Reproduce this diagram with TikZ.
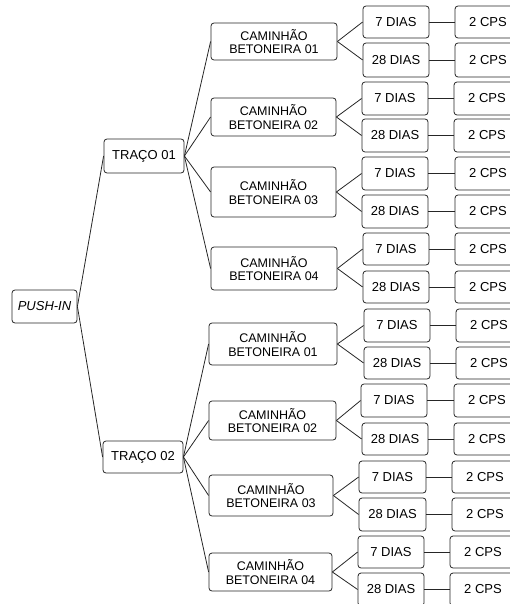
\documentclass[tikz,border=0pt]{standalone}
\usepackage{fontspec}
\setmainfont{Liberation Sans}
\tikzset{
  box/.style={draw=black!85, line width=0.8bp, rounded corners=3bp, inner sep=0pt, align=center,
    font=\fontsize{13bp}{14bp}\selectfont},
  cbox/.style={box, font=\fontsize{12.5bp}{13.5bp}\selectfont},
  link/.style={draw=black!85, line width=0.8bp}
}
% \bx[style]{name}{x1}{y1}{x2}{y2}{text}
\newcommand\bx[7][box]{\node[#1, minimum width={#5bp-#3bp}, minimum height={#6bp-#4bp}] (#2) at ({(#3+#5)/2},{(#4+#6)/2}) {#7};}
\begin{document}
\begin{tikzpicture}[x=1bp,y=-1bp]
\useasboundingbox (0,0) rectangle (510,604);
\bx{p}{12}{290}{77}{323}{\itshape PUSH-IN}
\bx{t1}{104}{139}{184}{173}{TRAÇO 01}
\bx{t2}{103}{441}{183}{473}{TRAÇO 02}
% caminhões
\bx[cbox]{c1}{211}{23}{337}{60}{CAMINHÃO\\BETONEIRA 01}
\bx[cbox]{c2}{211}{98}{336}{136}{CAMINHÃO\\BETONEIRA 02}
\bx[cbox]{c3}{211}{167}{336}{217}{CAMINHÃO\\BETONEIRA 03}
\bx[cbox]{c4}{211}{247}{337}{290}{CAMINHÃO\\BETONEIRA 04}
\bx[cbox]{c5}{209}{323}{337}{365}{CAMINHÃO\\BETONEIRA 01}
\bx[cbox]{c6}{209}{401}{336}{440}{CAMINHÃO\\BETONEIRA 02}
\bx[cbox]{c7}{209}{475}{333}{516}{CAMINHÃO\\BETONEIRA 03}
\bx[cbox]{c8}{209}{553}{332}{591}{CAMINHÃO\\BETONEIRA 04}
% dias
\bx{a1}{363}{6}{429}{38}{7 DIAS}
\bx{b1}{363}{43}{429}{77}{28 DIAS}
\bx{a2}{362}{82}{428}{115}{7 DIAS}
\bx{b2}{362}{119}{428}{152}{28 DIAS}
\bx{a3}{362}{157}{428}{190}{7 DIAS}
\bx{b3}{362}{195}{428}{228}{28 DIAS}
\bx{a4}{363}{233}{429}{265}{7 DIAS}
\bx{b4}{363}{271}{429}{303}{28 DIAS}
\bx{a5}{364}{309}{430}{342}{7 DIAS}
\bx{b5}{364}{347}{430}{379}{28 DIAS}
\bx{a6}{361}{384}{427}{417}{7 DIAS}
\bx{b6}{362}{423}{428}{455}{28 DIAS}
\bx{a7}{359}{461}{426}{493}{7 DIAS}
\bx{b7}{359}{498}{426}{531}{28 DIAS}
\bx{a8}{358}{536}{424}{568}{7 DIAS}
\bx{b8}{358}{573}{424}{606}{28 DIAS}
% CPS
\bx{ca1}{455}{6}{521}{38}{2 CPS}
\bx{cb1}{455}{43}{521}{77}{2 CPS}
\bx{ca2}{454}{82}{520}{115}{2 CPS}
\bx{cb2}{454}{119}{520}{152}{2 CPS}
\bx{ca3}{455}{157}{521}{190}{2 CPS}
\bx{cb3}{455}{195}{521}{228}{2 CPS}
\bx{ca4}{455}{233}{521}{265}{2 CPS}
\bx{cb4}{455}{271}{521}{303}{2 CPS}
\bx{ca5}{456}{309}{522}{342}{2 CPS}
\bx{cb5}{456}{347}{522}{379}{2 CPS}
\bx{ca6}{454}{384}{520}{417}{2 CPS}
\bx{cb6}{454}{423}{520}{455}{2 CPS}
\bx{ca7}{452}{461}{518}{493}{2 CPS}
\bx{cb7}{452}{498}{518}{531}{2 CPS}
\bx{ca8}{450}{536}{516}{568}{2 CPS}
\bx{cb8}{450}{573}{516}{606}{2 CPS}
% connectors
\draw[link] (p.east) -- (t1.west);
\draw[link] (p.east) -- (t2.west);
\foreach \c in {1,2,3,4} \draw[link] (t1.east) -- (c\c.west);
\foreach \c in {5,6,7,8} \draw[link] (t2.east) -- (c\c.west);
\foreach \c in {1,...,8} {
  \draw[link] (c\c.east) -- (a\c.west);
  \draw[link] (c\c.east) -- (b\c.west);
  \draw[link] (a\c.east) -- (ca\c.west);
  \draw[link] (b\c.east) -- (cb\c.west);
}
\end{tikzpicture}
\end{document}
